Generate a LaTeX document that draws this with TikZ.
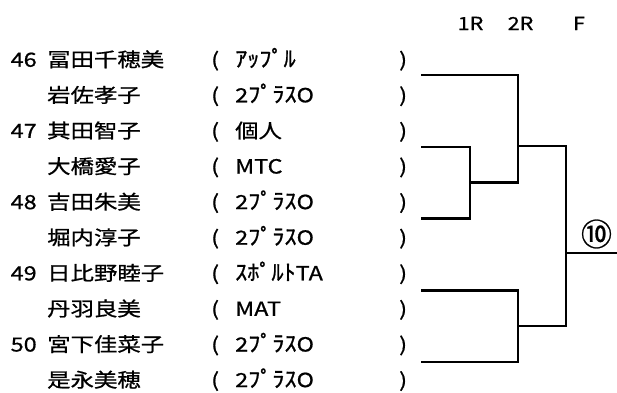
\documentclass[tikz,border=0pt]{standalone}
\usepackage{fontspec}
\newfontfamily\jpfont[FakeStretch=1.2,FakeBold=0.8]{Noto Sans CJK JP}
\newfontfamily\knfont[FakeStretch=1.1,FakeBold=1]{Noto Sans CJK JP}
\newfontfamily\seedfont[FakeBold=0.8]{Noto Sans CJK JP}
\newcommand{\kn}[1]{{\knfont\fontsize{22}{22}\selectfont #1}}
\begin{document}
\begin{tikzpicture}[x=1pt,y=-1pt,
  txt/.style={inner sep=0pt, anchor=base west, font=\jpfont\fontsize{19.5}{22}\selectfont},
  hdr/.style={inner sep=0pt, anchor=base, font=\jpfont\fontsize{18}{20}\selectfont},
  seed/.style={inner sep=0pt, anchor=center, font=\seedfont\fontsize{31}{34}\selectfont},
  bline/.style={line width=2.5pt, line join=miter}]
\useasboundingbox (0,0) rectangle (617,392);
% header
\node[hdr] (h1) at (470.5,30) {1R};
\node[hdr] (h2) at (520.5,30) {2R};
\node[hdr] (h3) at (579,30) {F};
% entries
\foreach \i/\name/\org in {0/冨田千穂美/\kn{ｱｯﾌﾟﾙ}, 1/岩佐孝子/2\kn{ﾌﾟﾗｽ}O, 2/其田智子/個人, 3/大橋愛子/MTC, 4/吉田朱美/2\kn{ﾌﾟﾗｽ}O, 5/堀内淳子/2\kn{ﾌﾟﾗｽ}O, 6/日比野睦子/\kn{ｽﾎﾟﾙﾄ}TA, 7/丹羽良美/MAT, 8/宮下佳菜子/2\kn{ﾌﾟﾗｽ}O, 9/是永美穂/2\kn{ﾌﾟﾗｽ}O}{
  \pgfmathsetmacro\yy{66.7+35.6*\i}
  \node[txt] (name\i) at (47,\yy) {\name};
  \node[txt] (lp\i) at (211,\yy) {(};
  \node[txt] (org\i) at (235,\yy) {\org};
  \node[txt] (rp\i) at (399,\yy) {)};
}
\foreach \i/\num in {0/46, 2/47, 4/48, 6/49, 8/50}{
  \pgfmathsetmacro\yy{66.7+35.6*\i}
  \node[txt] (num\i) at (10.5,\yy) {\num};
}
% bracket
\coordinate (a1) at (421,75);
\coordinate (a2) at (421,146.75);
\coordinate (a3) at (421,218.5);
\coordinate (a4) at (421,290.25);
\coordinate (a5) at (421,362);
\coordinate (j1) at (470,182.6);
\coordinate (j2) at (518,146);
\coordinate (j3) at (518,326);
\coordinate (j4) at (566,253);
\coordinate (fin) at (617,253);
\draw[bline] (a2) -| (j1) |- (a3);
\draw[bline] (a1) -| (j2);
\draw[bline] (j1) -| (j2);
\draw[bline] (a4) -| (j3) |- (a5);
\draw[bline] (j2) -| (j4);
\draw[bline] (j3) -| (j4);
\draw[bline] (j4) -- (fin);
\node[seed] (s10) at (596.5,234) {⑩};
\end{tikzpicture}
\end{document}
